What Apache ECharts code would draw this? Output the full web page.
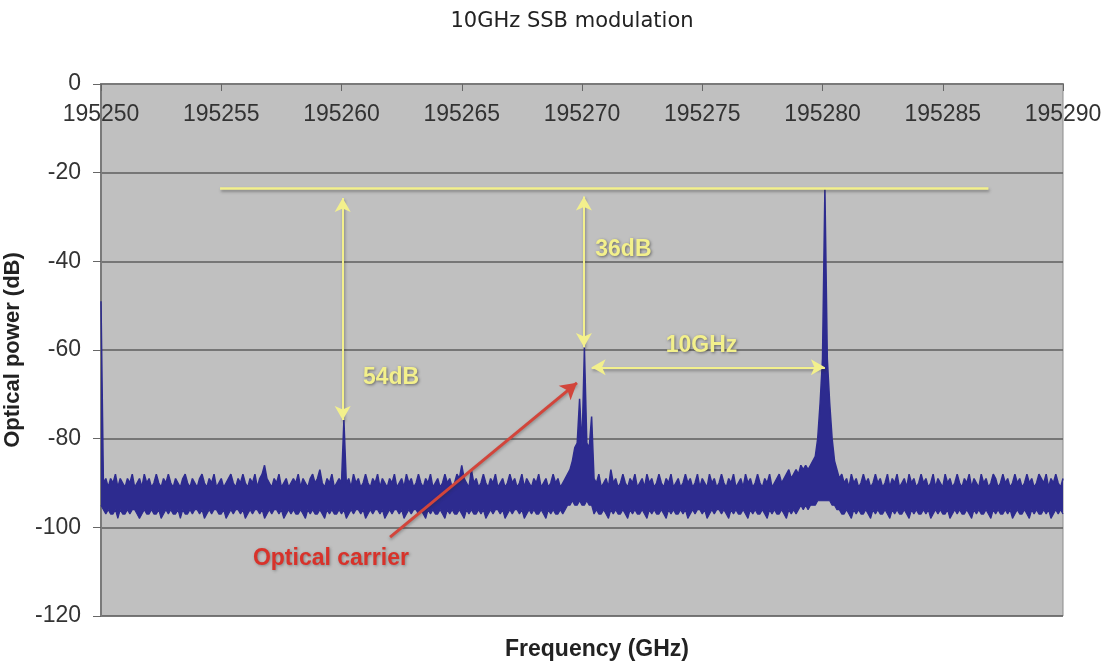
<!DOCTYPE html>
<html><head><meta charset="utf-8">
<script src="https://cdn.jsdelivr.net/npm/echarts@6/dist/echarts.min.js"></script>
<style>html,body{margin:0;padding:0;background:#fff}#c{width:1120px;height:665px}</style>
</head><body><div id="c"></div>
<script>
// ---- data ----
const FREQ_START = 195250;   // GHz, first sample
const FREQ_STEP = 0.1;       // GHz between samples
// upper edge of the measured trace (dB), includes the spectral lines
const powerUpper = [
  -49, -90, -89, -91, -89, -90, -88, -91, -89, -90, -91, -89, -90, -88, -91, -90, -89, -91, -88, -90,
  -89, -91, -90, -88, -90, -91, -89, -90, -88, -90, -91, -89, -90, -91, -89, -88, -90, -91, -89, -90,
  -91, -89, -88, -90, -91, -89, -90, -88, -91, -90, -89, -91, -90, -89, -88, -90, -91, -89, -90, -88,
  -90, -91, -89, -90, -88, -91, -89, -88, -86, -89, -90, -91, -89, -90, -88, -91, -90, -89, -91, -90,
  -89, -90, -88, -91, -89, -90, -91, -89, -88, -90, -89, -87, -90, -91, -89, -90, -88, -91, -90, -89,
  -90, -75.8, -90, -89, -91, -88, -90, -89, -91, -90, -88, -90, -91, -89, -90, -88, -91, -89, -90, -91,
  -89, -90, -88, -91, -90, -89, -91, -88, -90, -89, -91, -90, -88, -90, -91, -89, -90, -88, -91, -90,
  -89, -91, -90, -88, -90, -89, -91, -90, -88, -89, -86, -89, -90, -91, -87, -90, -89, -91, -90, -88,
  -90, -91, -89, -90, -88, -91, -90, -89, -91, -90, -88, -90, -89, -91, -90, -88, -91, -89, -90, -91,
  -89, -90, -88, -91, -90, -89, -91, -90, -88, -90, -89, -91, -90, -89, -88, -87, -85, -82, -81, -71,
  -82, -59.5, -81, -82, -75, -89, -90, -88, -91, -90, -89, -91, -87, -90, -89, -91, -90, -88, -90, -91,
  -89, -90, -88, -91, -90, -89, -91, -88, -90, -89, -91, -90, -88, -90, -91, -89, -90, -88, -91, -90,
  -89, -91, -90, -88, -90, -89, -91, -90, -88, -91, -89, -90, -91, -88, -90, -89, -91, -90, -88, -90,
  -91, -89, -90, -88, -91, -90, -89, -91, -88, -90, -89, -91, -90, -88, -90, -91, -89, -90, -88, -91,
  -90, -89, -88, -90, -89, -88, -87, -89, -88, -87, -88, -86, -87, -86, -87, -86, -85, -84, -80, -72,
  -62, -23.5, -62, -72, -80, -85, -87, -89, -88, -90, -89, -91, -88, -90, -89, -91, -90, -88, -90, -89,
  -91, -90, -88, -90, -89, -91, -90, -88, -91, -89, -90, -88, -91, -90, -89, -91, -88, -90, -89, -91,
  -90, -88, -90, -89, -91, -90, -88, -91, -89, -90, -91, -88, -90, -89, -91, -90, -88, -90, -91, -89,
  -90, -88, -91, -89, -90, -91, -88, -90, -89, -91, -90, -88, -89, -91, -90, -88, -90, -89, -91, -90,
  -88, -90, -89, -91, -90, -88, -90, -89, -91, -90, -88, -89, -90, -88, -91, -89, -90, -88, -90, -91, -89
];
// lower edge of the noise band (dB)
const powerLower = [
  -95, -96, -97, -96, -97, -97, -96, -98, -96, -97, -97, -96, -97, -96, -96, -97, -98, -97, -96, -97,
  -97, -96, -97, -97, -96, -98, -97, -96, -97, -96, -97, -97, -96, -98, -96, -97, -97, -96, -97, -96,
  -96, -97, -96, -98, -97, -96, -97, -96, -96, -97, -97, -96, -98, -97, -96, -97, -96, -96, -97, -96,
  -98, -97, -96, -97, -96, -96, -97, -96, -98, -97, -96, -97, -96, -96, -97, -96, -98, -97, -96, -97,
  -96, -97, -97, -96, -97, -98, -96, -97, -96, -97, -97, -96, -97, -98, -96, -97, -96, -97, -97, -96,
  -97, -96, -98, -97, -96, -97, -96, -96, -97, -96, -98, -97, -96, -97, -96, -96, -97, -96, -98, -97,
  -96, -97, -96, -96, -97, -96, -98, -97, -96, -97, -96, -96, -97, -96, -97, -98, -96, -97, -96, -97,
  -97, -96, -97, -98, -96, -97, -96, -97, -97, -96, -97, -98, -96, -97, -96, -97, -97, -96, -97, -96,
  -98, -97, -96, -97, -96, -96, -97, -96, -98, -97, -96, -97, -96, -96, -97, -96, -98, -97, -96, -97,
  -96, -97, -97, -96, -97, -98, -96, -97, -96, -97, -97, -96, -97, -96, -95, -95, -94, -95, -95, -94,
  -95, -95, -94, -95, -95, -97, -96, -97, -97, -96, -97, -98, -96, -97, -96, -97, -97, -96, -97, -98,
  -96, -97, -96, -97, -97, -96, -97, -98, -96, -97, -96, -97, -97, -96, -97, -98, -96, -97, -96, -97,
  -97, -96, -97, -96, -98, -97, -96, -97, -96, -96, -97, -96, -98, -97, -96, -97, -96, -96, -97, -96,
  -97, -98, -96, -97, -96, -97, -97, -96, -97, -98, -96, -97, -96, -97, -97, -96, -97, -98, -96, -97,
  -96, -97, -97, -96, -97, -98, -96, -97, -96, -97, -96, -95, -96, -95, -96, -95, -95, -95, -94, -94,
  -94, -94, -94, -94, -95, -95, -96, -96, -97, -97, -96, -97, -98, -96, -97, -96, -97, -97, -96, -97,
  -98, -96, -97, -96, -97, -97, -96, -97, -98, -96, -97, -96, -97, -97, -96, -97, -98, -96, -97, -96,
  -97, -97, -96, -97, -96, -98, -97, -96, -97, -96, -97, -97, -96, -98, -97, -96, -97, -96, -97, -97,
  -96, -97, -98, -96, -97, -96, -97, -97, -96, -97, -98, -96, -97, -96, -97, -97, -96, -97, -96, -98,
  -97, -96, -97, -97, -96, -97, -98, -96, -97, -96, -97, -97, -96, -97, -96, -98, -97, -96, -97, -96, -97
];
const xRange = [195250, 195290];
const xInterval = 5;
const yRange = [-120, 0];
const yInterval = 20;

// annotations, in data units [GHz, dB]
const refLevelLine = [[195254.95, -23.5], [195286.9, -23.5]];
const arrow54dB = [[195260.05, -25.7], [195260.05, -75.8]];
const arrow36dB = [[195270.08, -25.4], [195270.08, -59.3]];
const arrow10GHz = [[195270.4, -63.9], [195280.1, -63.9]];
const carrierArrow = [[195262.02, -102.2], [195269.79, -67.4]];
const yellowLabels = [
  { text: '54dB', at: [195262.06, -66.3] },
  { text: '36dB', at: [195271.72, -37.4] },
  { text: '10GHz', at: [195274.97, -59.1] }
];
const redLabel = { text: 'Optical carrier', at: [195259.56, -107] };

// ---- chart ----
// the two edges are each filled towards the middle of the band; the fills overlap slightly
const UPPER_FILL_TO = -93.6;
const LOWER_FILL_TO = -92.4;
const toXY = (arr) => arr.map((v, i) => [+(FREQ_START + i * FREQ_STEP).toFixed(2), v]);
const chart = echarts.init(document.getElementById('c'), null, { renderer: 'canvas' });

const BLUE = '#2d2b8f';
const YEL = '#f3f08c';
const yelShadow = { shadowColor: 'rgba(40,40,40,0.45)', shadowBlur: 3, shadowOffsetX: 1, shadowOffsetY: 2 };
const pair = (seg) => [{ coord: seg[0] }, { coord: seg[1] }];
const labelStyle = (color) => ({ show: true, position: 'inside', color: color, fontSize: 23,
  fontWeight: 'bold', fontFamily: 'Liberation Sans',
  textShadowColor: 'rgba(40,40,40,0.6)', textShadowBlur: 3, textShadowOffsetX: 1, textShadowOffsetY: 1 });

const option = {
  animation: false,
  backgroundColor: '#ffffff',
  graphic: [
    { type: 'text', x: 572, y: 22, silent: true,
      style: { text: '10GHz SSB modulation', font: '21px "DejaVu Sans"', fill: '#222',
               textAlign: 'center', textVerticalAlign: 'middle' } },
    { type: 'text', x: 597, y: 650, silent: true,
      style: { text: 'Frequency (GHz)', font: 'bold 23px "Liberation Sans"', fill: '#222',
               textAlign: 'center', textVerticalAlign: 'middle' } }
  ],
  grid: { left: 101, right: 57, top: 84, bottom: 49, show: true,
          backgroundColor: '#c0c0c0', borderColor: '#8c8c8c', borderWidth: 1,
          outerBoundsMode: 'none' },
  xAxis: {
    type: 'value', position: 'top', min: xRange[0], max: xRange[1], interval: xInterval,
    axisLine: { show: true, onZero: false, lineStyle: { color: '#7a7a7a', width: 2 } },
    axisTick: { show: true, inside: true, length: 7, lineStyle: { color: '#666' } },
    axisLabel: { inside: true, margin: 19, fontSize: 23, fontFamily: 'Liberation Sans', color: '#333',
                 showMinLabel: true, showMaxLabel: true, formatter: (v) => String(v) },
    splitLine: { show: false }
  },
  yAxis: {
    type: 'value', min: yRange[0], max: yRange[1], interval: yInterval,
    name: 'Optical power (dB)', nameLocation: 'middle', nameGap: 64,
    nameTextStyle: { fontFamily: 'Liberation Sans', fontWeight: 'bold', fontSize: 22, color: '#222' },
    axisLine: { show: true, onZero: false, lineStyle: { color: '#7a7a7a', width: 2 } },
    axisTick: { show: true, length: 8, lineStyle: { color: '#666' } },
    axisLabel: { margin: 20, fontSize: 23, fontFamily: 'Liberation Sans', color: '#333' },
    splitLine: { show: true, lineStyle: { color: '#5e5e5e', width: 1.5 } }
  },
  series: [
    {
      name: 'spectrum (lower edge)', type: 'line', data: toXY(powerLower), showSymbol: false, symbol: 'none',
      lineStyle: { color: BLUE, width: 1.2 }, areaStyle: { color: BLUE, opacity: 1, origin: LOWER_FILL_TO }, z: 3
    },
    {
      name: 'spectrum (upper edge)', type: 'line', data: toXY(powerUpper), showSymbol: false, symbol: 'none',
      lineStyle: { color: BLUE, width: 1.5 }, areaStyle: { color: BLUE, opacity: 1, origin: UPPER_FILL_TO }, z: 3,
      markPoint: {
        silent: true, symbol: 'circle', symbolSize: 0, animation: false,
        data: yellowLabels.map(l => ({
          coord: l.at,
          label: Object.assign(labelStyle(YEL), { formatter: l.text })
        })).concat([{
          coord: redLabel.at,
          label: Object.assign(labelStyle('#d8322a'), { formatter: redLabel.text,
                   textShadowColor: 'rgba(60,60,60,0.45)' })
        }])
      }
    },
    {
      name: 'reference level', type: 'line', data: [], z: 4,
      markLine: { silent: true, animation: false, symbol: ['none', 'none'], label: { show: false },
        lineStyle: Object.assign({ color: YEL, width: 2.5, type: 'solid' }, yelShadow),
        data: [pair(refLevelLine)] }
    },
    {
      name: 'dB arrows', type: 'line', data: [], z: 4,
      markLine: { silent: true, animation: false, symbol: ['arrow', 'arrow'], symbolSize: [12, 14],
        label: { show: false },
        lineStyle: Object.assign({ color: YEL, width: 2, type: 'solid' }, yelShadow),
        itemStyle: { color: YEL },
        data: [pair(arrow54dB), pair(arrow36dB), pair(arrow10GHz)] }
    },
    {
      name: 'carrier arrow', type: 'line', data: [], z: 4,
      markLine: { silent: true, animation: false, symbol: ['none', 'arrow'], symbolSize: [14, 16],
        label: { show: false },
        lineStyle: { color: '#d2453b', width: 3, type: 'solid',
                     shadowColor: 'rgba(40,40,40,0.35)', shadowBlur: 3, shadowOffsetY: 2 },
        itemStyle: { color: '#d2453b' },
        data: [pair(carrierArrow)] }
    }
  ]
};
chart.setOption(option);
</script>
</body></html>
